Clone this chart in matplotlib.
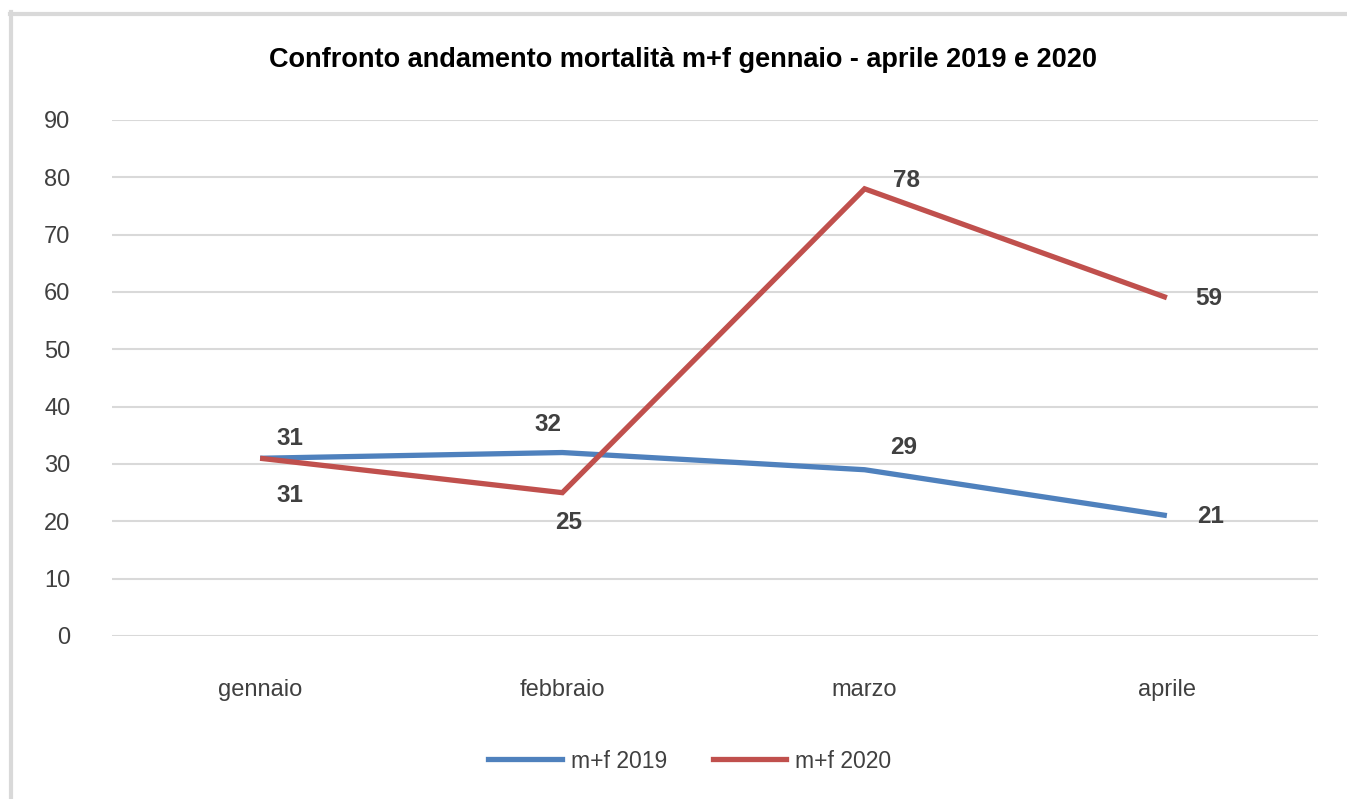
import matplotlib.pyplot as plt
from matplotlib.lines import Line2D

plt.rcParams['font.family'] = ['Liberation Sans', 'DejaVu Sans']

mesi = ['gennaio', 'febbraio', 'marzo', 'aprile']
mf_2019 = [31, 32, 29, 21]
mf_2020 = [31, 25, 78, 59]
yticks = [0, 10, 20, 30, 40, 50, 60, 70, 80, 90]

# label offsets in pixels (x, y)
off_2019 = [(30, 20), (-14, 28), (39, 22), (44, -1)]
off_2020 = [(30, -37), (6, -30), (42, 8), (42, -1)]

blue = '#4F81BD'
red = '#C0504D'

fig = plt.figure(figsize=(13.47, 7.99), dpi=100)
ax = fig.add_axes([112 / 1347, 1 - 636 / 799, 1206 / 1347, 516 / 799])

x = list(range(len(mesi)))
ax.plot(x, mf_2019, color=blue, lw=3.8, solid_capstyle='butt', solid_joinstyle='round', zorder=3)
ax.plot(x, mf_2020, color=red, lw=3.8, solid_capstyle='butt', solid_joinstyle='miter', zorder=3)

for xi, v, o in zip(x, mf_2019, off_2019):
    ax.annotate(str(v), (xi, v), xytext=o, textcoords='offset pixels',
                ha='center', va='center', fontsize=17.5, fontweight='bold', color='#404040')
for xi, v, o in zip(x, mf_2020, off_2020):
    ax.annotate(str(v), (xi, v), xytext=o, textcoords='offset pixels',
                ha='center', va='center', fontsize=17.5, fontweight='bold', color='#404040')

ax.set_xlim(-0.49, 3.5)
ax.set_ylim(0, 90)
ax.set_yticks(yticks)
ax.set_xticks(x)
ax.set_xticklabels(mesi)
ax.grid(axis='y', color='#d9d9d9', lw=1.5)
ax.set_axisbelow(True)
for s in ax.spines.values():
    s.set_visible(False)
ax.tick_params(axis='both', length=0, labelsize=17, colors='#404040')
ax.tick_params(axis='y', pad=30)
ax.tick_params(axis='x', pad=31)

fig.text(683 / 1347, 1 - 60 / 799, 'Confronto andamento mortalità m+f gennaio - aprile 2019 e 2020',
         ha='center', va='center', fontsize=19.5, fontweight='bold', color='black')

handles = [Line2D([], [], color=blue, lw=3.8), Line2D([], [], color=red, lw=3.8)]
fig.legend(handles, ['m+f 2019', 'm+f 2020'], loc='center', bbox_to_anchor=(690 / 1347, 1 - 761 / 799),
           ncol=2, frameon=False, fontsize=16.5, handlelength=3.2, columnspacing=2.0,
           handletextpad=0.4, labelcolor='#404040')

# outer chart border (top and left)
fig.add_artist(Line2D([10 / 1347, 1.0], [1 - 14 / 799, 1 - 14 / 799], color='#d9d9d9', lw=3))
fig.add_artist(Line2D([11 / 1347, 11 / 1347], [0, 1 - 12 / 799], color='#d9d9d9', lw=3))

fig.savefig('out.png', dpi=100)
